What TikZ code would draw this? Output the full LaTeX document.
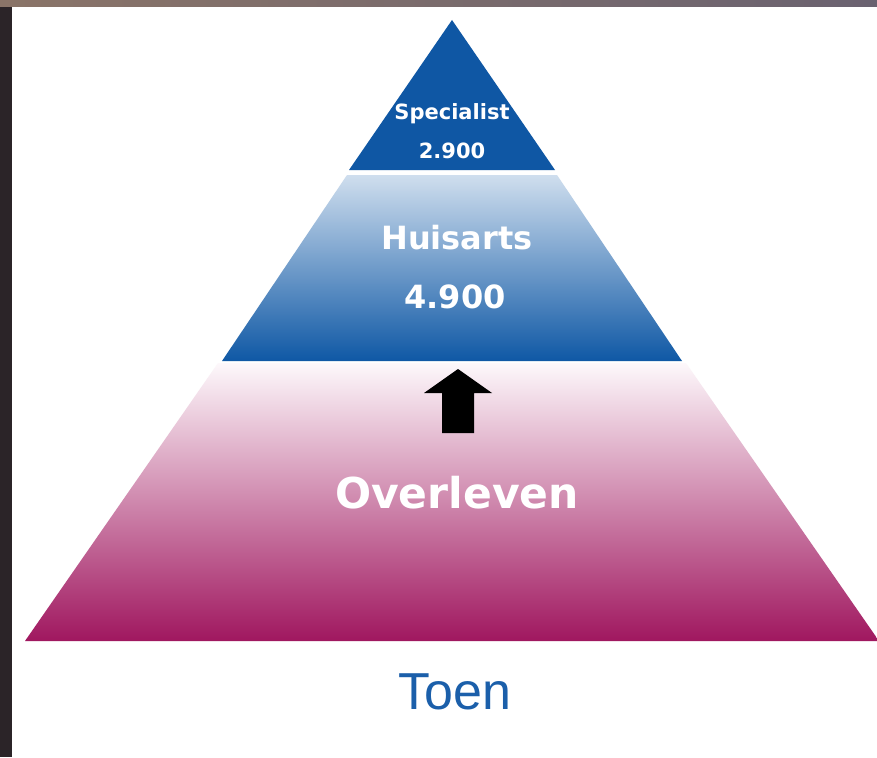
\documentclass[tikz,border=0pt]{standalone}
\usepackage{fontspec}
\setmainfont{Liberation Sans}
\newfontfamily\verdana{DejaVu Sans}
\usetikzlibrary{positioning}
\definecolor{photodark}{HTML}{2B2428}
\definecolor{photobrown}{HTML}{8A7468}
\definecolor{photogrey}{HTML}{6A6270}
\definecolor{specblue}{HTML}{0F57A4}
\definecolor{huistop}{HTML}{CFDEEE}
\definecolor{huismid}{HTML}{6F9BC9}
\definecolor{huisbottom}{HTML}{0F58A5}
\definecolor{overtop}{HTML}{FDF8FB}
\definecolor{overmid}{HTML}{E5BDD6}
\definecolor{overbottom}{HTML}{A0175F}
\definecolor{toenblue}{HTML}{1B5FAA}
\begin{document}
\begin{tikzpicture}[
			x=1pt,y=-1pt,
			lbl/.style={anchor=base,inner sep=0pt,text=white},
			small/.style={lbl,font=\verdana\bfseries\fontsize{21}{25}\selectfont},
			big/.style={lbl,font=\verdana\bfseries\fontsize{32}{38}\selectfont}
		]
		\useasboundingbox (0,0) rectangle (877,757);
		% frame
		\fill[photodark] (0,0) rectangle (877,757);
		\shade[left color=photobrown,right color=photogrey] (0,0) rectangle (877,7);
		\fill[white] (12,7) rectangle (877,757);
		% pyramid
		\fill[specblue] (452,20) -- (555,170) -- (349,170) -- cycle;
		\shade[top color=huistop,middle color=huismid,bottom color=huisbottom]
			(347,175) -- (557,175) -- (682,361) -- (222,361) -- cycle;
		\shade[top color=overtop,middle color=overmid,bottom color=overbottom]
			(218,363) -- (686,363) -- (879,641) -- (25,641) -- cycle;
		\fill[black] (458,369) -- (492,393) -- (474,393) -- (474,433)
			-- (442,433) -- (442,393) -- (424,393) -- cycle;
		% labels
		\node[small] (spec) at (452,120) {Specialist};
		\node[small] (specnum) at (452,158) {2.900};
		\node[big] (huis) at (457,249) {Huisarts};
		\node[big] (huisnum) at (455,308) {4.900};
		\node[lbl,font=\verdana\bfseries\fontsize{42.5}{50}\selectfont] (over) at (457,508) {Overleven};
		\node[anchor=base,inner sep=0pt,text=toenblue,font=\fontsize{52}{62}\selectfont] (toen) at (455,709) {Toen};
	\end{tikzpicture}
\end{document}
